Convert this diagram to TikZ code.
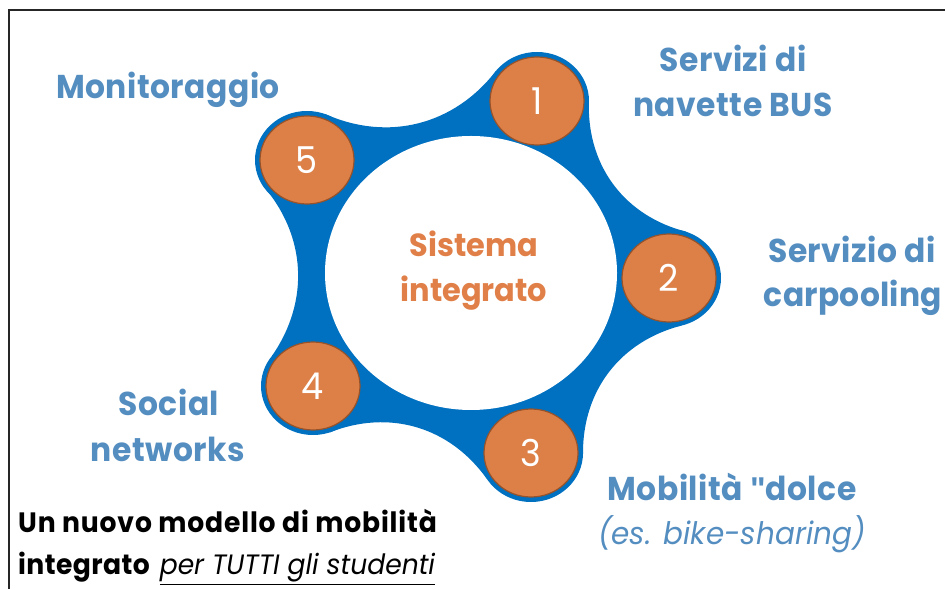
\documentclass[tikz,border=0pt]{standalone}
\usepackage{fontspec}
\setmainfont{Poppins}[FakeStretch=0.95]
\newfontfamily\quotefont{Liberation Sans}
\usetikzlibrary{calc,shapes.geometric}
\definecolor{lblue}{RGB}{84,141,192}
\definecolor{rblue}{RGB}{0,112,192}
\definecolor{ofill}{RGB}{221,128,72}
\definecolor{oedge}{RGB}{150,82,42}
\definecolor{otext}{RGB}{224,128,72}
\begin{document}
\begin{tikzpicture}[x=1pt,y=1pt,
  lbl/.style={text=lblue, font=\fontsize{33}{33}\selectfont\bfseries\addfontfeatures{LetterSpace=1.5}, anchor=base, inner sep=0pt},
  lblit/.style={text=lblue, font=\fontsize{31}{31}\selectfont\itshape\addfontfeatures{LetterSpace=0.3}, anchor=base, inner sep=0pt},
  ctr/.style={text=otext, font=\fontsize{32}{32}\selectfont\bfseries, anchor=base, inner sep=0pt},
  blk/.style={text=black, font=\fontsize{28}{28}\selectfont\addfontfeatures{LetterSpace=3}, anchor=base west, inner sep=0pt},
  blktwo/.style={text=black, font=\fontsize{28}{28}\selectfont\addfontfeatures{LetterSpace=1.5}, anchor=base west, inner sep=0pt},
  num/.style={ellipse, minimum width=94pt, minimum height=88pt, inner sep=0pt, fill=ofill, draw=oedge, line width=1.2pt, text=white, font=\fontsize{37}{37}\selectfont},
  blob/.style={fill=rblue}]
\useasboundingbox (0,0) rectangle (945,589);
\draw[line width=1.5pt, black!85] (9,0) -- (9,579) -- (945,579);
% centres
\coordinate (c) at (471,316);
\coordinate (p1) at (537,488);
\coordinate (p2) at (669,311);
\coordinate (p3) at (531,136);
\coordinate (p4) at (313,203);
\coordinate (p5) at (307,429);
% blue ring
\fill[blob] ($(p1)+(-5:52 and 49)$) to[bend right=38] ($(p2)+(71:52 and 49)$)
  -- ($(p2)+(-76:52 and 49)$) to[bend right=38] ($(p3)+(-1:52 and 49)$)
  -- ($(p3)+(-148:52 and 49)$) to[bend right=38] ($(p4)+(-71:52 and 49)$)
  -- ($(p4)+(142:52 and 49)$) to[bend right=38] ($(p5)+(210:52 and 49)$)
  -- ($(p5)+(69:52 and 49)$) to[bend right=38] ($(p1)+(142:52 and 49)$) -- cycle;
\foreach \p in {p1,p2,p3,p4,p5} \fill[blob] (\p) ellipse [x radius=52, y radius=49];
\fill[white] (c) ellipse [x radius=146, y radius=137];
% numbered circles
\node[num] (n1) at (p1) {1};
\node[num] (n2) at (p2) {2};
\node[num] (n3) at (p3) {3};
\node[num] (n4) at (p4) {4};
\node[num] (n5) at (p5) {5};
% centre text
\node[ctr] (s1) at (474,332) {Sistema};
\node[ctr] (s2) at (474,287) {integrato};
% labels
\node[lbl] (m1) at (168,490) {Monitoraggio};
\node[lbl] (a1) at (733,517) {Servizi di};
\node[lbl] (a2) at (733,472) {navette BUS};
\node[lbl] (b1) at (852,326) {Servizio di};
\node[lbl, font=\fontsize{33}{33}\selectfont\bfseries\addfontfeatures{LetterSpace=0.8}] (b2) at (853,282) {carpooling};
\node[lbl] (d1) at (732,88) {Mobilità {\quotefont\bfseries"}dolce};
\node[lblit] (d2) at (732,44) {(es. bike-sharing)};
\node[lbl] (e1) at (169,173) {Social};
\node[lbl] (e2) at (168,127) {networks};
% bottom text
\node[blk] (t1) at (18,56) {\bfseries Un nuovo modello di mobilità};
\node[blktwo] (t2) at (18,14) {\bfseries integrato\hspace{10pt}\mdseries\itshape\addfontfeatures{LetterSpace=0}\underline{per TUTTI gli studenti}};
\end{tikzpicture}
\end{document}
